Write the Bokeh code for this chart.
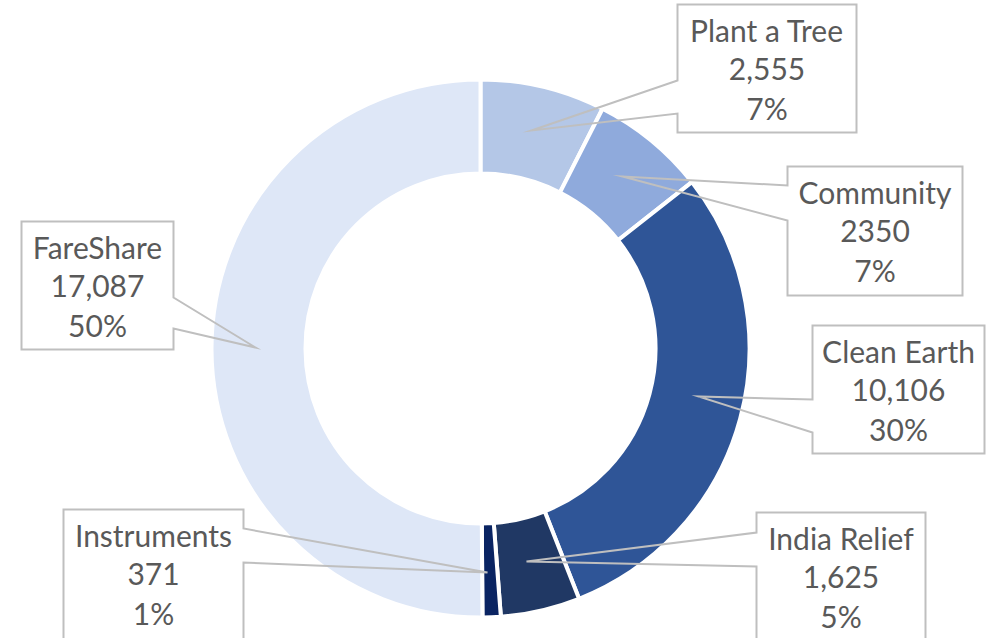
import math
from bokeh.plotting import figure
from bokeh.models import Range1d, ColumnDataSource
from bokeh.core.properties import value
from bokeh.embed import file_html
from bokeh.resources import INLINE

# ---- data ----
categories = ["Plant a Tree", "Community", "Clean Earth", "India Relief", "Instruments", "FareShare"]
values = [2555, 2350, 10106, 1625, 371, 17087]
value_labels = ["2,555", "2350", "10,106", "1,625", "371", "17,087"]
colors = ["#B4C7E7", "#8FAADC", "#2F5597", "#203864", "#0A2462", "#DEE7F7"]

# ---- layout (page pixel coordinates) ----
OFF = 0
W, H = 998, 638
CX, CY = 480, 348
R_OUT, R_IN = 267, 177
GAP = 4

# callout boxes: left, top, right, bottom, side of pointer, pointer base top/bottom, tip
boxes = {
    "Plant a Tree": dict(L=677, T=4, R=856, B=132, side="left", wt=80, wb=113, tip=(531, 130)),
    "Community": dict(L=787, T=166, R=962, B=295, side="left", wt=185, wb=220, tip=(622, 176)),
    "Clean Earth": dict(L=812, T=325, R=984, B=453, side="left", wt=399, wb=432, tip=(698, 396)),
    "India Relief": dict(L=756, T=512, R=925, B=645, side="left", wt=532, wb=566, tip=(526, 561)),
    "Instruments": dict(L=63, T=509, R=243, B=645, side="right", wt=528, wb=562, tip=(487, 572)),
    "FareShare": dict(L=21, T=221, R=173, B=349, side="right", wt=297, wb=328, tip=(255, 347)),
}

p = figure(width=W, height=H,
           x_range=Range1d(OFF, OFF + W), y_range=Range1d(-(OFF + H), -OFF),
           x_axis_type=None, y_axis_type=None,
           output_backend="svg", toolbar_location=None, min_border=0)
p.grid.visible = False
p.outline_line_color = None
p.background_fill_color = "white"
p.border_fill_color = "white"

total = float(sum(values))
starts, ends = [], []
cum = 0.0
for v in values:
    starts.append(math.pi / 2 - 2 * math.pi * cum / total)
    cum += v
    ends.append(math.pi / 2 - 2 * math.pi * cum / total)

src = ColumnDataSource(dict(x=[CX] * len(values), y=[-CY] * len(values),
                            start=starts, end=ends, color=colors))
p.annular_wedge(x="x", y="y", inner_radius=R_IN - GAP / 2, outer_radius=R_OUT + GAP / 2,
                start_angle="start", end_angle="end", direction="clock",
                fill_color="color", line_color="white", line_width=GAP, source=src)

# callouts
xs, ys = [], []
tx, ty, tt = [], [], []
for cat, v, vl in zip(categories, values, value_labels):
    b = boxes[cat]
    L, T, R, B = b["L"], b["T"], b["R"], b["B"]
    tipx, tipy = b["tip"]
    if b["side"] == "left":
        pts = [(L, T), (R, T), (R, B), (L, B), (L, b["wb"]), (tipx, tipy), (L, b["wt"]), (L, T)]
    else:
        pts = [(L, T), (R, T), (R, b["wt"]), (tipx, tipy), (R, b["wb"]), (R, B), (L, B), (L, T)]
    xs.append([q[0] for q in pts])
    ys.append([-q[1] for q in pts])
    pct = "%d%%" % round(100 * v / total)
    cx = (L + R) / 2
    for i, s in enumerate([cat, vl, pct]):
        tx.append(cx)
        ty.append(-(T + 25 + 39 * i))
        tt.append(s)

p.patches(xs, ys, fill_alpha=0, line_color="#BFBFBF", line_width=2, line_join="miter")
p.text(tx, ty, text=tt, text_align="center", text_baseline="alphabetic",
       text_font=value("Lato"), text_font_size="30px", text_color="#595959")

open("out.html", "w").write(file_html(p, INLINE))
